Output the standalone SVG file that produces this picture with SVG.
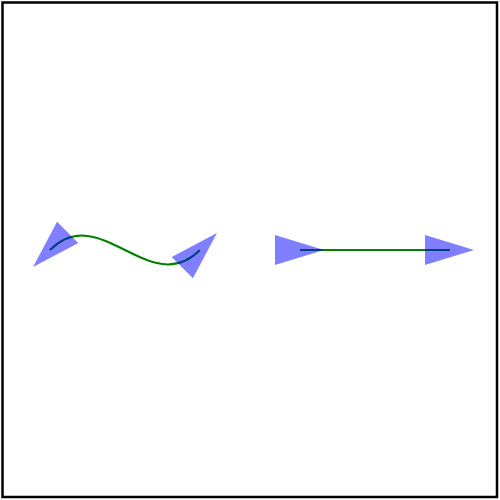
<svg xmlns="http://www.w3.org/2000/svg" width="500" height="500" viewBox="0 0 500 500">
  <style>
    .frame { fill: none; stroke: #000; stroke-width: 2.5; }
    .wire { fill: none; stroke: green; stroke-width: 2; }
    .tri { fill: blue; fill-opacity: 0.5; }
  </style>
  <defs>
    <marker id="arrowRev" markerUnits="userSpaceOnUse" markerWidth="50" markerHeight="30" refX="25" refY="15" orient="auto-start-reverse" overflow="visible">
      <path class="tri" d="M0,0 L49,15 L0,30 Z"/>
    </marker>
    <marker id="arrow" markerUnits="userSpaceOnUse" markerWidth="50" markerHeight="30" refX="25" refY="15" orient="auto" overflow="visible">
      <path class="tri" d="M0,0 L49,15 L0,30 Z"/>
    </marker>
  </defs>
  <rect class="frame" x="2.5" y="2.5" width="494.5" height="494.5"/>
  <g id="curve">
    <path class="wire" d="M50,250 C100,200 150,300 200,250" marker-start="url(#arrowRev)" marker-end="url(#arrowRev)"/>
  </g>
  <g id="line">
    <path class="wire" d="M300,250 L450,250" marker-start="url(#arrow)" marker-end="url(#arrow)"/>
  </g>
</svg>
